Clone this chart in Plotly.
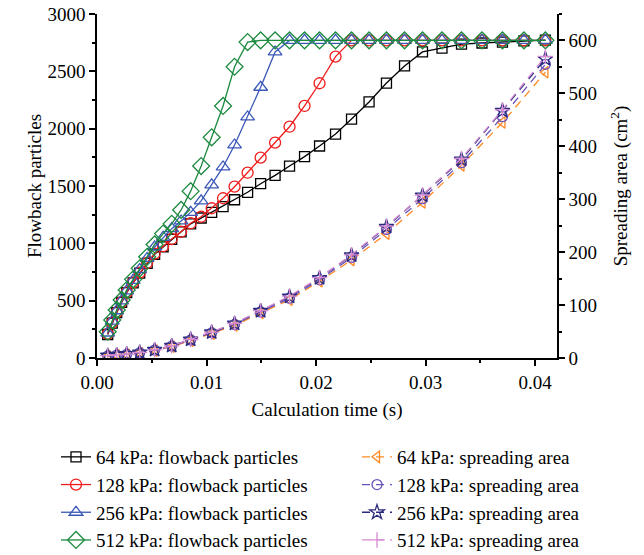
import plotly.graph_objects as go

# ---- data ----
time = [0.00098, 0.00139, 0.00180, 0.00225, 0.00271, 0.00330, 0.00390, 0.00458, 0.00526,
        0.00604, 0.00682, 0.00768, 0.00855, 0.00951, 0.01047, 0.01151, 0.01256, 0.01375,
        0.01494, 0.01626, 0.01758, 0.01895, 0.02032, 0.02178, 0.02324, 0.02484, 0.02643,
        0.02808, 0.02972, 0.03150, 0.03328, 0.03515, 0.03702, 0.03898, 0.04094]

flow_64 = [205, 305, 395, 485, 570, 655, 740, 825, 905, 970, 1035, 1100, 1170, 1221, 1270,
           1320, 1380, 1445, 1520, 1593, 1674, 1756, 1849, 1953, 2084, 2233, 2398, 2547,
           2669, 2703, 2738, 2747, 2755, 2765, 2773]
flow_128 = [210, 308, 398, 488, 573, 660, 745, 830, 910, 975, 1038, 1101, 1175, 1232, 1306,
            1393, 1494, 1616, 1747, 1878, 2017, 2198, 2396, 2628, 2770, 2770, 2770, 2770,
            2770, 2770, 2770, 2770, 2770, 2770, 2770]
flow_256 = [218, 322, 412, 499, 585, 677, 772, 868, 968, 1052, 1128, 1195, 1270, 1370, 1510,
            1666, 1858, 2102, 2361, 2669, 2770, 2770, 2770, 2770, 2770, 2770, 2770, 2770,
            2770, 2770, 2770, 2770, 2770, 2770, 2770]
flow_512 = [229, 331, 419, 506, 593, 686, 782, 883, 990, 1085, 1170, 1291, 1455, 1674, 1925,
            2198, 2540, 2755, 2770, 2770, 2770, 2770, 2770, 2770, 2770, 2770, 2770, 2770,
            2770, 2770, 2770, 2770, 2770, 2770, 2770]

time_area = [0.00098, 0.00180, 0.00271, 0.00390, 0.00526, 0.00682, 0.00855, 0.01047, 0.01256,
             0.01494, 0.01758, 0.02032, 0.02324, 0.02643, 0.02972, 0.03328, 0.03702, 0.04094]
area_64 = [3.5, 5, 6.5, 9.5, 14, 21.5, 32.5, 46, 61.5, 85, 110, 145, 185, 235, 294, 364, 445, 540]
area_128 = [4, 5.5, 7, 10, 15, 22.5, 34, 47.5, 63.5, 87, 113, 148, 190, 243, 301, 369, 456, 555]
area_256 = [4.5, 6, 7.5, 10.5, 15.5, 23, 35, 48.5, 65, 89, 116, 151, 194, 248, 307, 375, 467, 565]
area_512 = [4.5, 6, 7.5, 10.5, 15.5, 23, 35, 49, 65.5, 89.5, 117, 152, 195, 249, 308, 377, 469, 570]

flow_names = ["64 kPa: flowback particles", "128 kPa: flowback particles",
              "256 kPa: flowback particles", "512 kPa: flowback particles"]
area_names = ["64 kPa: spreading area", "128 kPa: spreading area",
              "256 kPa: spreading area", "512 kPa: spreading area"]

FONT = "Liberation Serif"
FS = 19

fig = go.Figure()

area_series = [area_64, area_128, area_256, area_512]
area_colors = ["#ff8a24", "#6a52b8", "#2a2a7e", "#d78bd2"]
area_symbols = ["triangle-left-open", "circle-open", "star-open", "cross-thin-open"]
area_sizes = [10, 10, 11, 11]
for vals, name, col, sym, sz in zip(area_series, area_names, area_colors, area_symbols, area_sizes):
    fig.add_trace(go.Scatter(
        x=time_area, y=vals, name=name, yaxis="y2", mode="lines+markers",
        line=dict(color=col, width=1.3, dash="8px,6px"),
        marker=dict(symbol=sym, size=sz, color=col, line=dict(color=col, width=1.3)),
        legend="legend2",
    ))

flow_series = [flow_64, flow_128, flow_256, flow_512]
flow_colors = ["#000000", "#f01d1d", "#3b58b8", "#1c8a3e"]
flow_symbols = ["square-open", "circle-open", "triangle-up-open", "diamond-open"]
flow_sizes = [10, 11, 12, 13]
for vals, name, col, sym, sz in zip(flow_series, flow_names, flow_colors, flow_symbols, flow_sizes):
    fig.add_trace(go.Scatter(
        x=time, y=vals, name=name, mode="lines+markers",
        line=dict(color=col, width=1.3),
        marker=dict(symbol=sym, size=sz, color=col, line=dict(color=col, width=1.3)),
        legend="legend",
    ))

axis_common = dict(
    showline=True, linecolor="black", linewidth=1.5, ticks="outside", ticklen=6,
    tickwidth=1.5, tickcolor="black", showgrid=False, zeroline=False,
    tickfont=dict(family=FONT, size=FS, color="black"),
)

PW = 644 - 97 - 87
PH = 555 - 14 - 197

fig.update_layout(
    width=644, height=555,
    margin=dict(l=97, r=87, t=14, b=197, autoexpand=False),
    paper_bgcolor="white", plot_bgcolor="white",
    font=dict(family=FONT, size=FS, color="black"),
    xaxis=dict(range=[0, 0.042], dtick=0.01, tick0=0, tickformat=".2f", automargin=False,
               title=dict(text="Calculation time (s)", font=dict(family=FONT, size=FS), standoff=11),
               minor=dict(dtick=0.005, ticklen=3.5, tickwidth=1.5, tickcolor="black", ticks="outside"),
               **axis_common),
    yaxis=dict(range=[0, 3000], dtick=500, tick0=0, automargin=False,
               title=dict(text="Flowback particles", font=dict(family=FONT, size=FS), standoff=1),
               minor=dict(dtick=250, ticklen=3.5, tickwidth=1.5, tickcolor="black", ticks="outside"),
               **axis_common),
    yaxis2=dict(range=[0, 650], dtick=100, tick0=0, overlaying="y", side="right", automargin=False,
                title=dict(text="Spreading area (cm<sup>2</sup>)", font=dict(family=FONT, size=FS), standoff=18),
                minor=dict(dtick=50, ticklen=3.5, tickwidth=1.5, tickcolor="black", ticks="outside"),
                **axis_common),
    legend=dict(x=(56 - 97) / PW, y=(358 - 438) / PH,
                xanchor="left", yanchor="top", bgcolor="rgba(0,0,0,0)",
                font=dict(family=FONT, size=FS, color="black"), tracegroupgap=0,
                itemwidth=30),
    legend2=dict(x=(357 - 97) / PW, y=(358 - 438) / PH,
                 xanchor="left", yanchor="top", bgcolor="rgba(0,0,0,0)",
                 font=dict(family=FONT, size=FS, color="black"), tracegroupgap=0,
                 itemwidth=30),
    showlegend=True,
)

fig.write_html("out.html")
